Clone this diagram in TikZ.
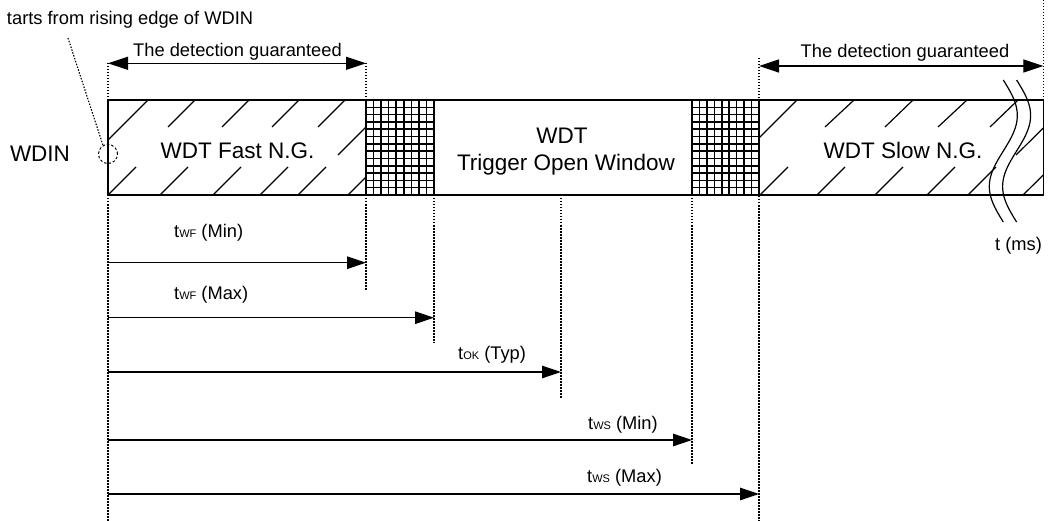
\documentclass[tikz,border=0pt]{standalone}
\usepackage{fontspec}
\setmainfont{Liberation Sans}
\usetikzlibrary{arrows.meta}
\newcommand\subtxt[1]{{\fontsize{11}{12}\selectfont #1}}
\begin{document}
\begin{tikzpicture}[x=1pt,y=-1pt,
  dotln/.style={line width=1.1pt, dash pattern=on 1.5pt off 1.5pt},
  arr/.style={line width=1.3pt, -{Triangle[length=19pt,width=12.5pt]}},
  dbl/.style={line width=1.3pt, {Triangle[length=20pt,width=13pt]}-{Triangle[length=20pt,width=13pt]}},
  hatch/.style={line width=1.2pt},
  grid/.style={line width=1.6pt},
  wave/.style={line width=1.2pt},
  big/.style={font=\fontsize{22.5}{26}\selectfont, inner sep=0pt},
  small/.style={font=\fontsize{18.3}{21}\selectfont, inner sep=0pt},
]
\fill[white] (0,0) rectangle (1048,521);
\useasboundingbox (0,0) rectangle (1048,521);

% dotted vertical guides
\draw[dotln] (108,63) -- (108,521);
\draw[dotln] (366,63) -- (366,290);
\draw[dotln] (434,195) -- (434,343);
\draw[dotln] (561,195) -- (561,399);
\draw[dotln] (692,195) -- (692,465);
\draw[dotln] (759,58) -- (759,521);
\draw[dotln] (1043.3,0) -- (1043.3,100);

% hatching (fast)
\foreach \a/\b/\c/\d in {108/140/148/100, 168/127/195/100, 222/127/249/100, 272/127/299/100, 318/127/345/100, 338/155/366/127,
  108/195/136/167, 160/195/188/167, 213/195/241/167, 260/195/288/167, 298/195/326/167, 348/195/366/177}
  \draw[hatch] (\a,\b) -- (\c,\d);
% hatching (slow)
\foreach \a/\b/\c/\d in {759/138/797/100, 825/127/854/100, 885/127/913/100, 938/127/967/100, 990/127/1018/100, 1016/155/1043.3/128,
  760/195/788/167, 817/195/845/167, 875/195/903/167, 927/195/955/167, 968/195/996/167, 1023/195/1043.3/175}
  \draw[hatch] (\a,\b) -- (\c,\d);

% cross hatched regions
\foreach \i in {0,...,9} {
  \draw[grid] ({366+\i*68/9},100) -- ++(0,95);
  \draw[grid] ({692+\i*67/9},100) -- ++(0,95);
}
\foreach \j in {0,...,13} {
  \draw[grid] (366,{100+\j*95/13}) -- (434,{100+\j*95/13});
  \draw[grid] (692,{100+\j*95/13}) -- (759,{100+\j*95/13});
}

% main bar
\draw[line width=1.4pt] (108,100) rectangle (1043.3,195);

% wavy break
\draw[wave] plot[domain=0:142, samples=60, smooth] ({1003.3+14*sin(2.5352*\x)},{80+\x});
\draw[wave] plot[domain=0:142, samples=60, smooth] ({1016.6+14*sin(2.5352*\x)},{80+\x});

% labels inside bar
\node[big, anchor=base] (wdin) at (40,162) {WDIN};
\node[big, anchor=base] (fast) at (237.5,158.3) {WDT Fast N.G.};
\node[big, anchor=base] (wdt) at (562,143.3) {WDT};
\node[big, anchor=base] (trig) at (566,171) {Trigger Open Window};
\node[big, anchor=base] (slow) at (903,158.3) {WDT Slow N.G.};
\node[small, anchor=base] (tms) at (1018.5,250) {t (ms)};

% rising edge note
\node[draw, circle, dash pattern=on 2.5pt off 2pt, line width=1pt, minimum size=19pt, inner sep=0pt] (circ) at (108,154) {};
\node[small, anchor=base east] (note) at (253.3,25) {tarts from rising edge of WDIN};
\coordinate (ldr) at (68,38);
\draw[dotln] (ldr) -- (circ.120);

% detection guaranteed arrows
\coordinate (g1a) at (108,63.3);
\coordinate (g1b) at (366,63.3);
\coordinate (g2a) at (759,66);
\coordinate (g2b) at (1043.3,66);
\draw[dbl] (g1a) -- (g1b);
\draw[dbl] (g2a) -- (g2b);
\node[small, anchor=base] (det1) at (237.5,56.7) {The detection guaranteed};
\node[small, anchor=base] (det2) at (905,57.3) {The detection guaranteed};

% timing arrows
\coordinate (s1) at (108,262.7); \coordinate (e1) at (366,262.7);
\coordinate (s2) at (108,317.7); \coordinate (e2) at (434,317.7);
\coordinate (s3) at (108,372);   \coordinate (e3) at (561,372);
\coordinate (s4) at (108,440);   \coordinate (e4) at (692,440);
\coordinate (s5) at (108,494);   \coordinate (e5) at (759,494);
\draw[arr] (s1) -- (e1);
\draw[arr] (s2) -- (e2);
\draw[arr] (s3) -- (e3);
\draw[arr] (s4) -- (e4);
\draw[arr] (s5) -- (e5);
\node[small, anchor=base west] (l1) at (174,237.3) {t\subtxt{WF} (Min)};
\node[small, anchor=base west] (l2) at (174,299) {t\subtxt{WF} (Max)};
\node[small, anchor=base west] (l3) at (458,359.3) {t\subtxt{OK} (Typ)};
\node[small, anchor=base west] (l4) at (588,429) {t\subtxt{WS} (Min)};
\node[small, anchor=base west] (l5) at (587,482.7) {t\subtxt{WS} (Max)};
\end{tikzpicture}
\end{document}
